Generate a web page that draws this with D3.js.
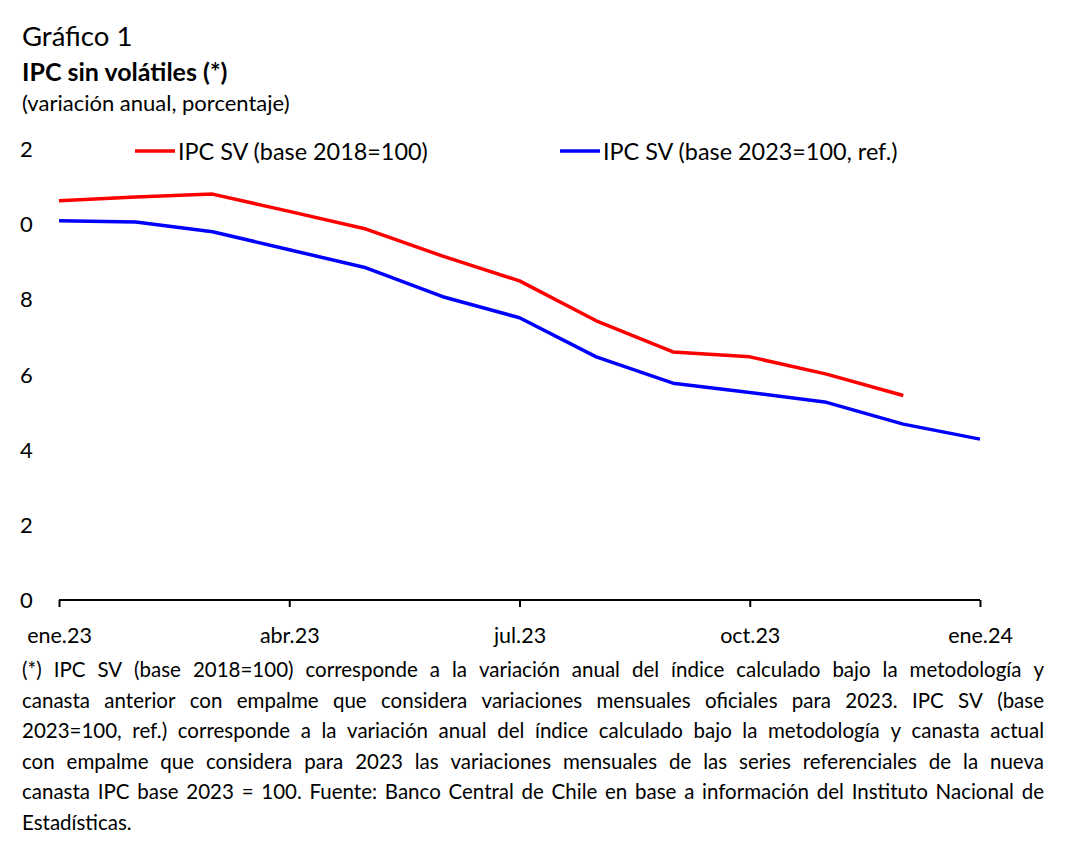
<!DOCTYPE html>
<html><head><meta charset="utf-8">
<script src="https://cdn.jsdelivr.net/npm/d3@7"></script>
<style>body{margin:0;background:#fff}svg{display:block}text{font-family:Lato,"Liberation Sans",sans-serif;fill:#000}</style>
</head><body>
<script>
const months = ["2023-01","2023-02","2023-03","2023-04","2023-05","2023-06","2023-07","2023-08","2023-09","2023-10","2023-11","2023-12","2024-01"];
const ipcSV2018 = [10.62,10.72,10.80,10.34,9.87,9.15,8.49,7.43,6.60,6.47,6.01,5.44,null];
const ipcSV2023 = [10.09,10.06,9.80,9.32,8.84,8.07,7.51,6.47,5.77,5.52,5.26,4.68,4.28];
const yTicks = [0,2,4,6,8,10,12];
const yTickLabels = ["0","2","4","6","8","0","2"];
const xTicks = ["2023-01","2023-04","2023-07","2023-10","2024-01"];
const xTickLabels = ["ene.23","abr.23","jul.23","oct.23","ene.24"];
const seriesNames = ["IPC SV (base 2018=100)","IPC SV (base 2023=100, ref.)"];
const seriesColors = ["#ff0000","#0000ff"];
const title = "Gráfico 1";
const subtitle = "IPC sin volátiles (*)";
const unit = "(variación anual, porcentaje)";
const noteLines = [
"(*) IPC SV (base 2018=100) corresponde a la variación anual del índice calculado bajo la metodología y",
"canasta anterior con empalme que considera variaciones mensuales oficiales para 2023. IPC SV (base",
"2023=100, ref.) corresponde a la variación anual del índice calculado bajo la metodología y canasta actual",
"con empalme que considera para 2023 las variaciones mensuales de las series referenciales de la nueva",
"canasta IPC base 2023 = 100. Fuente: Banco Central de Chile en base a información del Instituto Nacional de",
"Estadísticas."];

const W=1087,H=851;
const svg=d3.select("body").append("svg").attr("width",W).attr("height",H);
const x=d3.scalePoint().domain(months).range([59,980]);
const y=d3.scaleLinear().domain([0,12]).range([600,149]);

svg.append("text").attr("x",22).attr("y",46).attr("font-size",27.5).text(title);
svg.append("text").attr("x",22).attr("y",81).attr("font-size",25).attr("font-weight","bold").text(subtitle);
svg.append("text").attr("x",22).attr("y",111).attr("font-size",22).text(unit);

// y labels
svg.append("g").selectAll("text").data(yTicks).join("text")
 .attr("x",20).attr("y",d=>y(d)+8).attr("font-size",22).text((d,i)=>yTickLabels[i]);

// x axis
const xa=d3.axisBottom(x).tickValues(xTicks).tickSize(7).tickFormat((d,i)=>xTickLabels[i]);
const gx=svg.append("g").attr("transform","translate(0,600)").call(xa);
gx.select(".domain").attr("stroke","#000").attr("stroke-width",2).attr("d","M59,0H980");
gx.selectAll(".tick line").attr("stroke","#000").attr("stroke-width",2);
gx.selectAll(".tick text").attr("font-size",21.5).attr("dy",0).attr("y",43).attr("font-family","Lato");

const line=d3.line().defined(d=>d[1]!=null).x(d=>x(d[0])).y(d=>y(d[1]));
[ipcSV2018,ipcSV2023].forEach((s,i)=>{
 svg.append("path").datum(months.map((m,j)=>[m,s[j]])).attr("d",line)
  .attr("fill","none").attr("stroke",seriesColors[i]).attr("stroke-width",3.5).attr("stroke-linejoin","round");
});

// legend
const legX=[135,560];
seriesNames.forEach((n,i)=>{
 svg.append("line").attr("x1",legX[i]).attr("x2",legX[i]+40).attr("y1",151).attr("y2",151).attr("stroke",seriesColors[i]).attr("stroke-width",3.5);
 svg.append("text").attr("x",legX[i]+43).attr("y",160).attr("font-size",23.4).text(n);
});

// justified footnote
const fs=20.5, left=22, right=1044;
noteLines.forEach((ln,i)=>{
 const yy=677+i*30.5;
 const words=ln.split(" ");
 const last=i===noteLines.length-1;
 const g=svg.append("g");
 const ts=words.map(w=>g.append("text").attr("font-size",fs).attr("y",yy).text(w));
 const ws=ts.map(t=>t.node().getComputedTextLength());
 const total=d3.sum(ws);
 const sp=last?fs*0.26:(right-left-total)/(words.length-1);
 let cx=left;
 ts.forEach((t,k)=>{t.attr("x",cx);cx+=ws[k]+sp;});
});
</script>
</body></html>
